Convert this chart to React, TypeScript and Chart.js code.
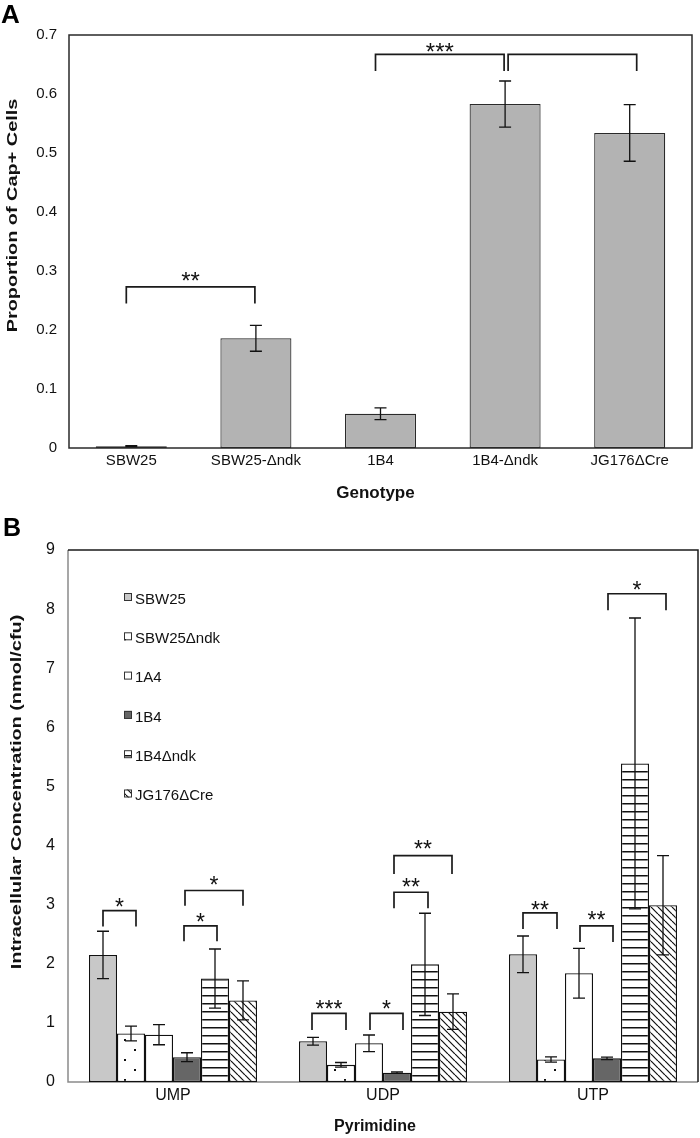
import React, { useEffect, useRef } from 'react';
import { Chart, registerables } from 'chart.js';
Chart.register(...registerables);

const FONT = '"Liberation Sans", Arial, Helvetica, sans-serif';

// ---------- Panel A data ----------
const genotypes = ['SBW25', 'SBW25-Δndk', '1B4', '1B4-Δndk', 'JG176ΔCre'];
const capProportion = [0.003, 0.186, 0.058, 0.583, 0.534];
const capError = [0.001, 0.022, 0.010, 0.039, 0.048];
const yTickLabelsA = ['0', '0.1', '0.2', '0.3', '0.4', '0.5', '0.6', '0.7'];

// ---------- Panel B data ----------
const pyrimidines = ['UMP', 'UDP', 'UTP'];
const strains = ['SBW25', 'SBW25Δndk', '1A4', '1B4', '1B4Δndk', 'JG176ΔCre'];
const sbw25Conc = [2.15, 0.69, 2.16];
const sbw25Err = [0.40, 0.065, 0.31];
const sbw25NdkConc = [0.82, 0.29, 0.38];
const sbw25NdkErr = [0.125, 0.04, 0.045];
const conc1A4 = [0.80, 0.655, 1.84];
const err1A4 = [0.17, 0.14, 0.42];
const conc1B4 = [0.42, 0.158, 0.40];
const err1B4 = [0.075, 0.012, 0.02];
const conc1B4Ndk = [1.75, 1.99, 5.39];
const err1B4Ndk = [0.50, 0.865, 2.46];
const concJG176 = [1.38, 1.19, 2.99];
const errJG176 = [0.33, 0.30, 0.84];
const yTickLabelsB = ['0', '1', '2', '3', '4', '5', '6', '7', '8', '9'];

// significance annotations (values in axis units)
const bracketsA = [
  { from: 0, to: 1, dx: [-5, -1], top: 0.273, leg: 0.245, label: '**', labelY: 0.293 },
  { from: 2, to: 3, dx: [-5, -1], top: 0.667, leg: 0.639, label: '***', labelY: 0.681 },
  { from: 3, to: 4, dx: [3, 7], top: 0.667, leg: 0.639, label: '', labelY: 0 },
];
const bracketsB = [
  { cat: 0, from: 0, to: 1, dx: [0, 5], top: 2.90, leg: 2.63, label: '*', labelY: 3.05 },
  { cat: 0, from: 3, to: 4, dx: [-3, 2], top: 2.64, leg: 2.38, label: '*', labelY: 2.79 },
  { cat: 0, from: 3, to: 5, dx: [-2, 0], top: 3.24, leg: 2.98, label: '*', labelY: 3.42 },
  { cat: 1, from: 0, to: 1, dx: [-1, 5], top: 1.16, leg: 0.88, label: '***', labelY: 1.32 },
  { cat: 1, from: 2, to: 3, dx: [1, 6], top: 1.16, leg: 0.88, label: '*', labelY: 1.32 },
  { cat: 1, from: 3, to: 4, dx: [-3, 3], top: 3.21, leg: 2.94, label: '**', labelY: 3.38 },
  { cat: 1, from: 3, to: 5, dx: [-3, -1], top: 3.83, leg: 3.52, label: '**', labelY: 4.03 },
  { cat: 2, from: 0, to: 1, dx: [0, 6], top: 2.86, leg: 2.59, label: '**', labelY: 2.99 },
  { cat: 2, from: 2, to: 3, dx: [1, 6], top: 2.64, leg: 2.37, label: '**', labelY: 2.83 },
  { cat: 2, from: 3, to: 5, dx: [1, 3], top: 8.26, leg: 7.98, label: '*', labelY: 8.41 },
];

function makePattern(ctx: CanvasRenderingContext2D, kind: string): CanvasPattern | string {
  const size = kind === 'dots' ? 20 : kind === 'hstripes' ? 8 : 7;
  const c = document.createElement('canvas');
  c.width = size;
  c.height = size;
  const g = c.getContext('2d')!;
  g.fillStyle = '#ffffff';
  g.fillRect(0, 0, size, size);
  g.fillStyle = '#111';
  g.strokeStyle = '#111';
  if (kind === 'dots') {
    g.fillRect(4, 4, 2, 2);
    g.fillRect(14, 14, 2, 2);
  } else if (kind === 'hstripes') {
    g.fillRect(0, 0, size, 1.5);
  } else if (kind === 'diag') {
    g.lineWidth = 1.2;
    for (const x0 of [-7, 0, 7]) {
      g.beginPath();
      g.moveTo(x0, 0);
      g.lineTo(x0 + 7, 7);
      g.stroke();
    }
  }
  return ctx.createPattern(c, 'repeat') || '#fff';
}

function drawStars(ctx: CanvasRenderingContext2D, text: string, x: number, cy: number, size: number) {
  if (!text) return;
  ctx.save();
  ctx.fillStyle = '#111';
  ctx.font = `${size}px ${FONT}`;
  ctx.textAlign = 'center';
  ctx.textBaseline = 'alphabetic';
  ctx.fillText(text, x, cy + 0.57 * size);
  ctx.restore();
}

function drawBracket(ctx: CanvasRenderingContext2D, x1: number, x2: number, yTop: number, yLeg: number) {
  ctx.save();
  ctx.strokeStyle = '#1a1a1a';
  ctx.lineWidth = 1.7;
  ctx.beginPath();
  ctx.moveTo(x1, yLeg);
  ctx.lineTo(x1, yTop);
  ctx.lineTo(x2, yTop);
  ctx.lineTo(x2, yLeg);
  ctx.stroke();
  ctx.restore();
}

function drawErrorBar(ctx: CanvasRenderingContext2D, x: number, yt: number, yb: number, half: number) {
  ctx.beginPath();
  ctx.moveTo(x, yt);
  ctx.lineTo(x, yb);
  ctx.moveTo(x - half, yt);
  ctx.lineTo(x + half, yt);
  ctx.moveTo(x - half, yb);
  ctx.lineTo(x + half, yb);
  ctx.stroke();
}

function drawVTitle(ctx: CanvasRenderingContext2D, text: string, x: number, y: number, size: number, stretch: number) {
  ctx.save();
  ctx.translate(x, y);
  ctx.rotate(-Math.PI / 2);
  ctx.scale(stretch, 1);
  ctx.fillStyle = '#111';
  ctx.font = `bold ${size}px ${FONT}`;
  ctx.textAlign = 'center';
  ctx.textBaseline = 'middle';
  ctx.fillText(text, 0, 0);
  ctx.restore();
}

function drawText(ctx: CanvasRenderingContext2D, text: string, x: number, y: number, font: string, align: CanvasTextAlign) {
  ctx.save();
  ctx.fillStyle = '#111';
  ctx.font = font;
  ctx.textAlign = align;
  ctx.textBaseline = 'middle';
  ctx.fillText(text, x, y);
  ctx.restore();
}

const pluginA = {
  id: 'panelA',
  afterDatasetsDraw(chart: any) {
    const { ctx, chartArea: ca, scales } = chart;
    const y = scales.y;
    const meta = chart.getDatasetMeta(0);
    ctx.save();
    ctx.strokeStyle = '#111';
    ctx.lineWidth = 1.3;
    meta.data.forEach((bar: any, i: number) => {
      drawErrorBar(ctx, bar.x, y.getPixelForValue(capProportion[i] + capError[i]), y.getPixelForValue(capProportion[i] - capError[i]), 6);
    });
    ctx.strokeStyle = '#2a2a2a';
    ctx.lineWidth = 1.5;
    ctx.strokeRect(ca.left, ca.top, ca.right - ca.left, ca.bottom - ca.top);
    ctx.restore();
    bracketsA.forEach((b) => {
      const x1 = meta.data[b.from].x + b.dx[0];
      const x2 = meta.data[b.to].x + b.dx[1];
      drawBracket(ctx, x1, x2, y.getPixelForValue(b.top), y.getPixelForValue(b.leg));
      drawStars(ctx, b.label, (x1 + x2) / 2, y.getPixelForValue(b.labelY), 24);
    });
  },
  afterDraw(chart: any) {
    const { ctx } = chart;
    drawVTitle(ctx, 'Proportion of Cap+ Cells', 13.5, 215.5, 14, 1.42);
    drawText(ctx, 'Genotype', 375.5, 493, `bold 17px ${FONT}`, 'center');
    ctx.save();
    ctx.fillStyle = '#000';
    ctx.font = `bold 26px ${FONT}`;
    ctx.textAlign = 'left';
    ctx.textBaseline = 'alphabetic';
    ctx.fillText('A', 1, 23);
    ctx.restore();
  },
};

const concB = [sbw25Conc, sbw25NdkConc, conc1A4, conc1B4, conc1B4Ndk, concJG176];
const errB = [sbw25Err, sbw25NdkErr, err1A4, err1B4, err1B4Ndk, errJG176];

const pluginB = {
  id: 'panelB',
  beforeDatasetsDraw(chart: any) {
    const { ctx, chartArea: ca } = chart;
    ctx.save();
    ctx.strokeStyle = '#8a8a8a';
    ctx.lineWidth = 1.5;
    ctx.beginPath();
    ctx.moveTo(ca.left, ca.top);
    ctx.lineTo(ca.left, ca.bottom);
    ctx.lineTo(ca.right, ca.bottom);
    ctx.stroke();
    ctx.restore();
  },
  afterDatasetsDraw(chart: any) {
    const { ctx, chartArea: ca, scales } = chart;
    const y = scales.y;
    ctx.save();
    ctx.strokeStyle = '#111';
    ctx.lineWidth = 1.3;
    concB.forEach((vals, d) => {
      const meta = chart.getDatasetMeta(d);
      meta.data.forEach((bar: any, i: number) => {
        drawErrorBar(ctx, bar.x, y.getPixelForValue(vals[i] + errB[d][i]), y.getPixelForValue(vals[i] - errB[d][i]), 6);
      });
    });
    ctx.strokeStyle = '#1a1a1a';
    ctx.lineWidth = 1.5;
    ctx.beginPath();
    ctx.moveTo(ca.left, ca.top);
    ctx.lineTo(ca.right, ca.top);
    ctx.lineTo(ca.right, ca.bottom);
    ctx.stroke();
    ctx.restore();
    bracketsB.forEach((b) => {
      const x1 = chart.getDatasetMeta(b.from).data[b.cat].x + b.dx[0];
      const x2 = chart.getDatasetMeta(b.to).data[b.cat].x + b.dx[1];
      drawBracket(ctx, x1, x2, y.getPixelForValue(b.top), y.getPixelForValue(b.leg));
      drawStars(ctx, b.label, (x1 + x2) / 2, y.getPixelForValue(b.labelY), 23);
    });
    // legend
    chart.data.datasets.forEach((ds: any, i: number) => {
      const cy = ca.top + 47 + i * 39.3;
      ctx.save();
      ctx.fillStyle = ds.backgroundColor;
      ctx.fillRect(124, cy - 4, 8, 8);
      ctx.strokeStyle = '#333';
      ctx.lineWidth = 1;
      ctx.strokeRect(124.5, cy - 3.5, 7, 7);
      ctx.restore();
      drawText(ctx, ds.label, 135, cy + 2.5, `15px ${FONT}`, 'left');
    });
  },
  afterDraw(chart: any) {
    const { ctx } = chart;
    drawVTitle(ctx, 'Intracellular Concentration (nmol/cfu)', 17, 277, 14, 1.42);
    drawText(ctx, 'Pyrimidine', 375, 612, `bold 16px ${FONT}`, 'center');
    ctx.save();
    ctx.fillStyle = '#000';
    ctx.font = `bold 25px ${FONT}`;
    ctx.textAlign = 'left';
    ctx.textBaseline = 'alphabetic';
    ctx.fillText('B', 3, 21);
    ctx.restore();
  },
};

function configA(): any {
  return {
    type: 'bar',
    data: {
      labels: genotypes,
      datasets: [
        {
          label: 'Proportion of Cap+ Cells',
          data: capProportion,
          backgroundColor: '#b3b3b3',
          borderColor: '#2a2a2a',
          borderWidth: 1.2,
          borderSkipped: false,
          categoryPercentage: 1.0,
          barPercentage: 0.57,
        },
      ],
    },
    options: {
      responsive: false,
      animation: false,
      devicePixelRatio: 1,
      layout: { padding: { left: 0, top: 35, right: 8, bottom: 0 } },
      plugins: { legend: { display: false }, tooltip: { enabled: false } },
      scales: {
        x: {
          grid: { display: false, drawTicks: false },
          border: { display: false },
          ticks: { font: { size: 15, family: FONT }, color: '#111', padding: 4, maxRotation: 0 },
          afterFit: (s: any) => { s.height = 67; },
        },
        y: {
          min: 0,
          max: 0.7,
          grid: { display: false, drawTicks: false },
          border: { display: false },
          ticks: {
            stepSize: 0.1,
            font: { size: 15, family: FONT },
            color: '#111',
            padding: 12,
            callback: (_v: any, i: number) => yTickLabelsA[i],
          },
          afterFit: (s: any) => { s.width = 69; },
        },
      },
    },
    plugins: [pluginA],
  };
}

function configB(canvas: HTMLCanvasElement): any {
  const ctx = canvas.getContext('2d')!;
  const fills = ['#c8c8c8', makePattern(ctx, 'dots'), '#ffffff', '#666666', makePattern(ctx, 'hstripes'), makePattern(ctx, 'diag')];
  return {
    type: 'bar',
    data: {
      labels: pyrimidines,
      datasets: strains.map((s, i) => ({
        label: s,
        data: concB[i],
        backgroundColor: fills[i],
        borderColor: '#111',
        borderWidth: 1.3,
        borderSkipped: false,
        categoryPercentage: 0.8,
        barPercentage: 1.0,
      })),
    },
    options: {
      responsive: false,
      animation: false,
      devicePixelRatio: 1,
      layout: { padding: { left: 0, top: 35, right: 2, bottom: 0 } },
      plugins: { legend: { display: false }, tooltip: { enabled: false } },
      scales: {
        x: {
          grid: { display: false, drawTicks: false },
          border: { display: false },
          ticks: { font: { size: 16, family: FONT }, color: '#111', padding: 4, maxRotation: 0 },
          afterFit: (s: any) => { s.height = 56; },
        },
        y: {
          min: 0,
          max: 9,
          grid: { display: false, drawTicks: false },
          border: { display: false },
          ticks: {
            stepSize: 1,
            font: { size: 16, family: FONT },
            color: '#111',
            padding: 13,
            callback: (_v: any, i: number) => yTickLabelsB[i],
          },
          afterFit: (s: any) => { s.width = 68; },
        },
      },
    },
    plugins: [pluginB],
  };
}

export default function App() {
  const refA = useRef<HTMLCanvasElement>(null);
  const refB = useRef<HTMLCanvasElement>(null);
  useEffect(() => {
    const chA = new Chart(refA.current!, configA());
    const chB = new Chart(refB.current!, configB(refB.current!));
    return () => {
      chA.destroy();
      chB.destroy();
    };
  }, []);
  return (
    <div style={{ position: 'absolute', left: 0, top: 0, width: 700, height: 1138, background: '#fff' }}>
      <canvas ref={refA} width={700} height={515} style={{ position: 'absolute', left: 0, top: 0, width: 700, height: 515 }} />
      <canvas ref={refB} width={700} height={623} style={{ position: 'absolute', left: 0, top: 515, width: 700, height: 623 }} />
    </div>
  );
}
